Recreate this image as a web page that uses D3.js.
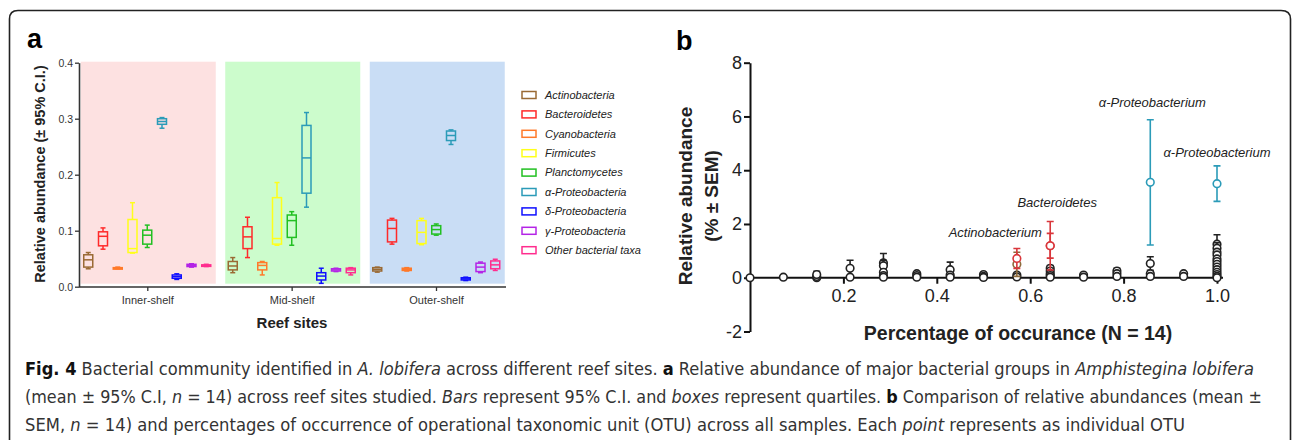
<!DOCTYPE html>
<html>
<head>
<meta charset="utf-8">
<script src="https://cdn.jsdelivr.net/npm/d3@7"></script>
<style>
  body { margin: 0; background: #fff; }
  svg { display: block; }
  svg text { font-family: "Liberation Sans", Arial, sans-serif; }
</style>
</head>
<body>
<div id="chart"></div>
<script>
const svgWidth = 1293
const svgHeight = 440

// ---- panel a data ----
const sites = ["Inner-shelf", "Mid-shelf", "Outer-shelf"]
const taxa = ["Actinobacteria", "Bacteroidetes", "Cyanobacteria", "Firmicutes", "Planctomycetes",
  "α-Proteobacteria", "δ-Proteobacteria", "γ-Proteobacteria", "Other bacterial taxa"]
const taxaColors = ["#9a6a34", "#ff2a2a", "#ff7a2a", "#ffff1a", "#22c022", "#2b9bb8", "#1010ff", "#b424e6", "#ff2d8e"]
const siteBg = ["#fde1e1", "#ccfccc", "#c9ddf5"]
// [min, q1, median, q3, max] per taxon, one array per site
const innerShelf = [
  [0.032, 0.035, 0.048, 0.057, 0.061],
  [0.067, 0.073, 0.090, 0.098, 0.105],
  [0.032, 0.032, 0.033, 0.034, 0.035],
  [0.060, 0.061, 0.068, 0.120, 0.150],
  [0.070, 0.076, 0.092, 0.101, 0.110],
  [0.283, 0.290, 0.295, 0.300, 0.302],
  [0.013, 0.015, 0.018, 0.021, 0.023],
  [0.035, 0.036, 0.038, 0.040, 0.041],
  [0.036, 0.037, 0.038, 0.039, 0.040]
]
const midShelf = [
  [0.025, 0.030, 0.037, 0.045, 0.052],
  [0.052, 0.068, 0.089, 0.107, 0.124],
  [0.021, 0.030, 0.038, 0.043, 0.045],
  [0.074, 0.076, 0.086, 0.159, 0.186],
  [0.074, 0.088, 0.118, 0.128, 0.134],
  [0.142, 0.167, 0.230, 0.288, 0.311],
  [0.006, 0.012, 0.019, 0.025, 0.033],
  [0.027, 0.028, 0.030, 0.032, 0.033],
  [0.021, 0.025, 0.030, 0.033, 0.034]
]
const outerShelf = [
  [0.026, 0.028, 0.031, 0.034, 0.035],
  [0.076, 0.080, 0.104, 0.119, 0.122],
  [0.028, 0.029, 0.031, 0.033, 0.034],
  [0.075, 0.077, 0.097, 0.118, 0.122],
  [0.092, 0.094, 0.102, 0.109, 0.112],
  [0.254, 0.261, 0.270, 0.278, 0.280],
  [0.011, 0.012, 0.014, 0.016, 0.017],
  [0.025, 0.027, 0.035, 0.042, 0.044],
  [0.029, 0.032, 0.039, 0.046, 0.049]
]
const siteStats = [innerShelf, midShelf, outerShelf]
const aTicks = [0, 0.1, 0.2, 0.3, 0.4]

// ---- panel b data (one entry per OTU) ----
const otuOccurrence = [
  0, 1/14,
  2/14, 2/14, 2/14,
  3/14, 3/14,
  4/14, 4/14, 4/14, 4/14, 4/14,
  5/14, 5/14, 5/14,
  6/14, 6/14, 6/14,
  7/14, 7/14, 7/14,
  8/14, 8/14, 8/14, 8/14,
  9/14, 9/14, 9/14, 9/14, 9/14, 9/14, 9/14,
  10/14, 10/14,
  11/14, 11/14, 11/14,
  12/14, 12/14, 12/14, 12/14,
  13/14, 13/14,
  1, 1, 1, 1, 1, 1, 1, 1, 1, 1, 1, 1, 1, 1
]
const otuMean = [
  0, 0.02,
  0, 0.05, 0.12,
  0.35, 0.02,
  0.55, 0.45, 0.2, 0.08, 0.02,
  0.15, 0.08, 0.02,
  0.3, 0.1, 0.02,
  0.12, 0.05, 0.01,
  0.1, 0.03, 0.5, 0.72,
  0.35, 0.25, 0.15, 0.08, 0.02, 1.19, 1.19,
  0.1, 0.02,
  0.25, 0.15, 0.05,
  0.53, 0.15, 0.05, 3.55,
  0.15, 0.05,
  1.25, 1.1, 0.95, 0.85, 0.7, 0.6, 0.5, 0.4, 0.3, 0.2, 0.12, 0.05, 0, 3.5
]
const otuSem = [
  0, 0.01,
  0, 0.03, 0.12,
  0.3, 0.01,
  0.35, 0.2, 0.1, 0.05, 0.01,
  0.05, 0.03, 0.01,
  0.28, 0.05, 0.01,
  0.04, 0.02, 0.01,
  0.05, 0.02, 0.45, 0.37,
  0.1, 0.08, 0.05, 0.03, 0.01, 0.9, 0.46,
  0.05, 0.01,
  0.1, 0.05, 0.02,
  0.25, 0.05, 0.02, 2.33,
  0.05, 0.02,
  0.35, 0.2, 0.1, 0.05, 0.05, 0.05, 0.05, 0.05, 0.05, 0.03, 0.03, 0.02, 0, 0.66
]
// 0 = other OTU, 1 = Actinobacterium, 2 = Bacteroidetes, 3 = α-Proteobacterium
const otuGroup = [
  0, 0, 0, 0, 0, 0, 0, 0, 0, 0, 0, 0, 0, 0, 0, 0, 0, 0, 0, 0, 0,
  0, 0, 1, 2,
  0, 0, 0, 0, 0, 2, 2,
  0, 0, 0, 0, 0,
  0, 0, 0, 3,
  0, 0,
  0, 0, 0, 0, 0, 0, 0, 0, 0, 0, 0, 0, 0, 3
]
const otuColors = ["#222", "#8e6b3c", "#d9363b", "#2b9bb8"]
const otuLabels = [
  { text: "Actinobacterium", x: 8/14, y: 1.53, anchor: "end", dx: 25 },
  { text: "Bacteroidetes", x: 9/14, y: 2.62, anchor: "middle", dx: 7 },
  { text: "α-Proteobacterium", x: 12/14, y: 6.35, anchor: "middle", dx: 2 },
  { text: "α-Proteobacterium", x: 1, y: 4.5, anchor: "middle", dx: 0 }
]
const bXTicks = [0.2, 0.4, 0.6, 0.8, 1.0]
const bYTicks = [-2, 0, 2, 4, 6, 8]

const captionLines = [
  [["b", "Fig. 4"], ["n", " Bacterial community identified in "], ["i", "A. lobifera"], ["n", " across different reef sites. "], ["b", "a"], ["n", " Relative abundance of major bacterial groups in "], ["i", "Amphistegina lobifera"]],
  [["n", "(mean ± 95% C.I, "], ["i", "n"], ["n", " = 14) across reef sites studied. "], ["i", "Bars"], ["n", " represent 95% C.I. and "], ["i", "boxes"], ["n", " represent quartiles. "], ["b", "b"], ["n", " Comparison of relative abundances (mean ±"]],
  [["n", "SEM, "], ["i", "n"], ["n", " = 14) and percentages of occurrence of operational taxonomic unit (OTU) across all samples. Each "], ["i", "point"], ["n", " represents as individual OTU"]]
]

let svg = d3.select("#chart").append("svg")
  .attr("width", svgWidth)
  .attr("height", svgHeight)

// outer frame with rounded top corners
svg.append("path")
  .attr("d", "M9.5,450 L9.5,19 Q9.5,10.5 18,10.5 L1281,10.5 Q1290.5,10.5 1290.5,19 L1290.5,450")
  .attr("fill", "none")
  .attr("stroke", "#222")
  .attr("stroke-width", 1.6)

// ================= panel a =================
let yA = d3.scaleLinear().domain([0, 0.4]).range([286.7, 62.7])
let xSite = d3.scaleBand().domain(sites).range([75, 508.5])
let xTaxon = d3.scalePoint().domain(taxa).range([-59, 59])
const boxW = 9

let gA = svg.append("g")

gA.selectAll("rect.bg")
  .data(sites)
  .enter()
  .append("rect")
  .attr("class", "bg")
  .attr("x", (d) => xSite(d) + xSite.bandwidth() / 2 - 66.5)
  .attr("width", 135)
  .attr("y", yA(0.4) - 1)
  .attr("height", yA(0) - yA(0.4) - 2)
  .attr("fill", (d, i) => siteBg[i])

sites.forEach((site, si) => {
  let cx0 = xSite(site) + xSite.bandwidth() / 2
  let boxes = gA.append("g")
    .selectAll("g")
    .data(siteStats[si])
    .enter()
    .append("g")
    .attr("transform", (d, i) => `translate(${cx0 + xTaxon(taxa[i])},0)`)
    .attr("stroke", (d, i) => taxaColors[i])
    .attr("stroke-width", 1.5)
    .attr("fill", "none")

  boxes.append("line")
    .attr("y1", (d) => yA(d[0])).attr("y2", (d) => yA(d[4]))
  boxes.append("line")
    .attr("x1", -2.5).attr("x2", 2.5)
    .attr("y1", (d) => yA(d[0])).attr("y2", (d) => yA(d[0]))
  boxes.append("line")
    .attr("x1", -2.5).attr("x2", 2.5)
    .attr("y1", (d) => yA(d[4])).attr("y2", (d) => yA(d[4]))
  boxes.append("rect")
    .attr("x", -boxW / 2).attr("width", boxW)
    .attr("y", (d) => yA(d[3]))
    .attr("height", (d) => Math.max(yA(d[1]) - yA(d[3]), 1.5))
    .attr("fill", (d, i) => siteBg[si])
  boxes.append("line")
    .attr("x1", -boxW / 2).attr("x2", boxW / 2)
    .attr("y1", (d) => yA(d[2])).attr("y2", (d) => yA(d[2]))
})

let aLeft = d3.axisLeft(yA).tickValues(aTicks).tickFormat(d3.format(".1f")).tickSize(4).tickSizeOuter(0)
let aLeftG = gA.append("g").attr("transform", "translate(79,0)").call(aLeft)
aLeftG.select(".domain").attr("stroke", "#333").attr("stroke-width", 1.6)
aLeftG.selectAll(".tick line").attr("stroke", "#333").attr("stroke-width", 1.3)
aLeftG.selectAll(".tick text").attr("font-size", 10.5).attr("fill", "#333").attr("x", -6)

let aBottomScale = d3.scalePoint().domain(sites).range([147.3, 436]).padding(0)
let aBottom = d3.axisBottom(aBottomScale).tickSize(4).tickSizeOuter(0)
let aBottomG = gA.append("g").attr("transform", "translate(0,287)").call(aBottom)
aBottomG.select(".domain").attr("d", "M79,0H506").attr("stroke", "#333").attr("stroke-width", 1.6)
aBottomG.selectAll(".tick line").attr("stroke", "#333").attr("stroke-width", 1.3)
aBottomG.selectAll(".tick text").attr("font-size", 11).attr("fill", "#333").attr("dy", "0.9em")

gA.append("text")
  .attr("transform", "rotate(-90)")
  .attr("x", -174)
  .attr("y", 45)
  .attr("text-anchor", "middle")
  .attr("font-size", 14.5)
  .attr("font-weight", "bold")
  .attr("fill", "#222")
  .text("Relative abundance (± 95% C.I.)")

gA.append("text")
  .attr("x", 292)
  .attr("y", 328)
  .attr("text-anchor", "middle")
  .attr("font-size", 15)
  .attr("font-weight", "bold")
  .attr("fill", "#222")
  .text("Reef sites")

gA.append("text")
  .attr("x", 27)
  .attr("y", 48)
  .attr("font-size", 27)
  .attr("font-weight", "bold")
  .text("a")

// legend
let legend = gA.selectAll("g.legend")
  .data(taxa)
  .enter()
  .append("g")
  .attr("class", "legend")
  .attr("transform", (d, i) => `translate(522,${95 + i * 19.4})`)

legend.append("rect")
  .attr("x", 0).attr("y", -3.5)
  .attr("width", 14).attr("height", 7)
  .attr("fill", "none")
  .attr("stroke", (d, i) => taxaColors[i])
  .attr("stroke-width", 1.5)

legend.append("text")
  .attr("x", 23)
  .attr("dy", "0.35em")
  .attr("font-size", 11)
  .attr("font-style", "italic")
  .attr("fill", "#222")
  .text((d) => d)

// ================= panel b =================
let xB = d3.scaleLinear().domain([0, 1]).range([750, 1217])
let yB = d3.scaleLinear().domain([-2, 8]).range([331.5, 62.7])

let gB = svg.append("g")

let bBottom = d3.axisBottom(xB).tickValues(bXTicks).tickFormat(d3.format(".1f")).tickSize(6).tickSizeOuter(0)
let bBottomG = gB.append("g").attr("transform", `translate(0,${yB(0)})`).call(bBottom)
bBottomG.select(".domain").attr("d", "M750,0H1223").attr("stroke", "#111").attr("stroke-width", 2)
bBottomG.selectAll(".tick line").attr("stroke", "#111").attr("stroke-width", 2)
bBottomG.selectAll(".tick text").attr("font-size", 18).attr("fill", "#222").attr("y", 11)

let bLeft = d3.axisLeft(yB).tickValues(bYTicks).tickFormat((d) => String(d)).tickSize(6).tickSizeOuter(0)
let bLeftG = gB.append("g").attr("transform", "translate(750,0)").call(bLeft)
bLeftG.select(".domain").attr("stroke", "#111").attr("stroke-width", 2)
bLeftG.selectAll(".tick line").attr("stroke", "#111").attr("stroke-width", 2)
bLeftG.selectAll(".tick text").attr("font-size", 18).attr("fill", "#222").attr("x", -8)

let otus = otuOccurrence.map((x, i) => ({ x: x, m: otuMean[i], s: otuSem[i], g: otuGroup[i] }))
// draw black ones first, coloured on top
otus.sort((a, b) => a.g - b.g)

let otuG = gB.selectAll("g.otu")
  .data(otus)
  .enter()
  .append("g")
  .attr("class", "otu")
  .attr("stroke", (d) => otuColors[d.g])
  .attr("stroke-width", 1.6)
  .attr("fill", "none")

otuG.filter((d) => d.s > 0.04)
  .append("path")
  .attr("d", (d) => {
    let x = xB(d.x)
    let t = yB(d.m + d.s)
    let b = yB(d.m - d.s)
    return `M${x},${t}V${b}M${x - 3.5},${t}H${x + 3.5}M${x - 3.5},${b}H${x + 3.5}`
  })

otuG.append("circle")
  .attr("cx", (d) => xB(d.x))
  .attr("cy", (d) => yB(d.m))
  .attr("r", 3.8)
  .attr("fill", "#fff")

gB.selectAll("text.otulabel")
  .data(otuLabels)
  .enter()
  .append("text")
  .attr("class", "otulabel")
  .attr("x", (d) => xB(d.x) + d.dx)
  .attr("y", (d) => yB(d.y))
  .attr("text-anchor", (d) => d.anchor)
  .attr("font-size", 13)
  .attr("font-style", "italic")
  .attr("fill", "#222")
  .text((d) => d.text)

let bYLabel = gB.append("text")
  .attr("transform", "rotate(-90)")
  .attr("text-anchor", "middle")
  .attr("font-size", 19)
  .attr("font-weight", "bold")
  .attr("fill", "#222")
bYLabel.append("tspan").attr("x", -196).attr("y", 692).text("Relative abundance")
bYLabel.append("tspan").attr("x", -196).attr("y", 718).text("(% ± SEM)")

gB.append("text")
  .attr("x", 1018)
  .attr("y", 340)
  .attr("text-anchor", "middle")
  .attr("font-size", 19.5)
  .attr("font-weight", "bold")
  .attr("fill", "#222")
  .text("Percentage of occurance (N = 14)")

gB.append("text")
  .attr("x", 676)
  .attr("y", 50)
  .attr("font-size", 27)
  .attr("font-weight", "bold")
  .text("b")

// ================= caption =================
const captionEnds = [1254, 1262, 1185]
captionLines.forEach((line, li) => {
  let t = svg.append("text")
    .attr("x", 25)
    .attr("y", 375 + li * 28)
    .attr("font-size", 17)
    .attr("fill", "#333")
    .attr("textLength", captionEnds[li] - 25)
    .attr("lengthAdjust", "spacingAndGlyphs")
    .style("font-family", "'Liberation Sans Narrow', 'DejaVu Sans Condensed', 'Open Sans', sans-serif")
  line.forEach(([kind, str]) => {
    t.append("tspan")
      .attr("font-weight", kind === "b" ? "bold" : null)
      .attr("font-style", kind === "i" ? "italic" : null)
      .attr("fill", kind === "b" ? "#111" : null)
      .text(str)
  })
})
</script>
</body>
</html>
